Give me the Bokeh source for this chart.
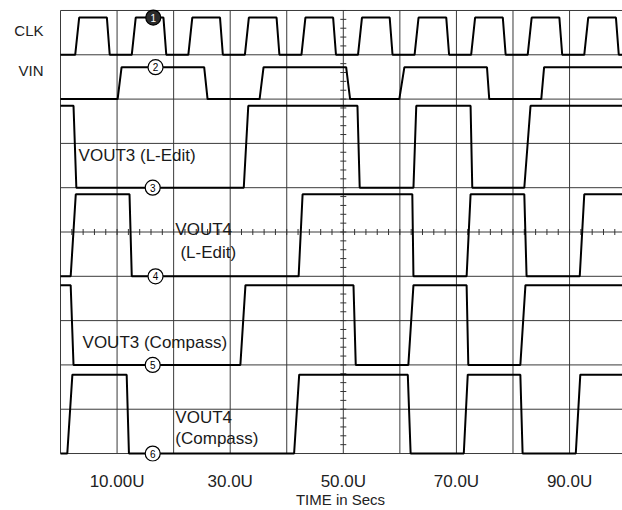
from bokeh.plotting import figure
from bokeh.models import Range1d, FixedTicker, ColumnDataSource
from bokeh.core.properties import value
from bokeh.embed import file_html
from bokeh.resources import INLINE
import math

FONT = "Liberation Sans"

# ---- data (time in microseconds, logic level 0/1) ----
clk_t = [0, 2.6, 3.3, 8.2, 8.7, 12.6, 13.3, 18.2, 18.7, 22.6, 23.3, 28.2, 28.7,
         32.6, 33.3, 38.2, 38.7, 42.6, 43.3, 48.2, 48.7, 52.6, 53.3, 58.2, 58.7,
         62.6, 63.3, 68.2, 68.7, 72.6, 73.3, 78.2, 78.7, 82.6, 83.3, 88.2, 88.7,
         92.6, 93.3, 98.2, 98.7, 99.4]
clk_v = [0, 0, 1, 1, 0, 0, 1, 1, 0, 0, 1, 1, 0,
         0, 1, 1, 0, 0, 1, 1, 0, 0, 1, 1, 0,
         0, 1, 1, 0, 0, 1, 1, 0, 0, 1, 1, 0,
         0, 1, 1, 0, 0]

vin_t = [0, 10.1, 10.8, 25.4, 26.0, 35.2, 35.9, 50.5, 51.2, 59.9, 60.8, 75.4, 75.8, 85.0, 85.5, 99.4]
vin_v = [0, 0, 1, 1, 0, 0, 1, 1, 0, 0, 1, 1, 0, 0, 1, 1]

v3l_t = [0, 2.3, 2.8, 32.4, 33.2, 52.5, 52.9, 62.4, 62.9, 72.5, 72.8, 82.0, 83.1, 99.4]
v3l_v = [1, 1, 0, 0, 1, 1, 0, 0, 1, 1, 0, 0, 1, 1]

v4l_t = [0, 1.8, 2.7, 12.2, 12.6, 42.1, 42.8, 62.2, 62.4, 71.8, 72.5, 82.0, 82.4, 91.8, 92.6, 99.4]
v4l_v = [0, 0, 1, 1, 0, 0, 1, 1, 0, 0, 1, 1, 0, 0, 1, 1]

v3c_t = [0, 1.8, 2.3, 31.8, 32.7, 51.8, 52.2, 61.5, 62.4, 71.8, 72.1, 81.3, 82.2, 99.4]
v3c_v = [1, 1, 0, 0, 1, 1, 0, 0, 1, 1, 0, 0, 1, 1]

v4c_t = [0, 1.2, 2.1, 11.7, 12.1, 41.3, 42.2, 61.4, 61.9, 71.3, 72.0, 81.3, 81.7, 91.1, 91.9, 99.4]
v4c_v = [0, 0, 1, 1, 0, 0, 1, 1, 0, 0, 1, 1, 0, 0, 1, 1]

tick_vals = [10, 30, 50, 70, 90]
tick_labels = ["10.00U", "30.0U", "50.0U", "70.0U", "90.0U"]
x_label = "TIME in Secs"

row_names = ["CLK", "VIN"]
node_labels = ["1", "2", "3", "4", "5", "6"]
node_t = [16.4, 16.8, 16.3, 16.8, 16.3, 16.3]

trace_labels = ["VOUT3 (L-Edit)", "VOUT4", "(L-Edit)", "VOUT3 (Compass)", "VOUT4", "(Compass)"]

# ---- layout (division units on the screen, 10 divisions tall) ----
traces = [
    (clk_t, clk_v, 9.0, 0.84),
    (vin_t, vin_v, 8.0, 0.72),
    (v3l_t, v3l_v, 6.0, 1.85),
    (v4l_t, v4l_v, 4.0, 1.85),
    (v3c_t, v3c_v, 2.0, 1.80),
    (v4c_t, v4c_v, 0.0, 1.78),
]
node_level = [1, 1, 0, 0, 0, 0]
row_name_y = [9.55, 8.65]
label_x = [3.2, 20.3, 21.2, 3.9, 20.3, 20.3]
label_y = [6.73, 5.06, 4.54, 2.51, 0.81, 0.34]

X0, X1 = -0.354, 99.36
Y0, Y1 = -0.18, 10.09

p = figure(width=622, height=510, x_range=Range1d(X0, X1), y_range=Range1d(Y0, Y1),
           output_backend="svg", toolbar_location=None,
           min_border_left=58, min_border_right=0, min_border_top=6, min_border_bottom=49)
p.background_fill_color = "white"
p.border_fill_color = "white"
p.outline_line_color = None
p.grid.grid_line_color = None

# graticule
grid_x = [0, 10, 20, 30, 40, 50, 60, 70, 80, 90]
grid_y = [0, 1, 2, 3, 4, 5, 6, 7, 8, 9, 10]
p.segment(x0=grid_x, y0=[0] * len(grid_x), x1=grid_x, y1=[10] * len(grid_x),
          line_color="#3a3a3a", line_width=1)
p.segment(x0=[0] * len(grid_y), y0=grid_y, x1=[X1] * len(grid_y), y1=grid_y,
          line_color="#3a3a3a", line_width=1)

# x axis
p.xaxis.ticker = FixedTicker(ticks=tick_vals)
p.xaxis.major_label_overrides = dict(zip(tick_vals, tick_labels))
p.xaxis.axis_line_color = None
p.xaxis.major_tick_line_color = None
p.xaxis.minor_tick_line_color = None
p.xaxis.major_tick_out = 0
p.xaxis.major_tick_in = 0
p.xaxis.major_label_standoff = 10
p.xaxis.major_label_text_font = FONT
p.xaxis.major_label_text_font_size = "17px"
p.xaxis.major_label_text_color = "#222222"
p.xaxis.axis_label = x_label
p.xaxis.axis_label_text_font = FONT
p.xaxis.axis_label_text_font_size = "15px"
p.xaxis.axis_label_text_font_style = "normal"
p.xaxis.axis_label_text_color = "#222222"
p.xaxis.axis_label_standoff = -3

# y axis with row names
p.yaxis.ticker = FixedTicker(ticks=row_name_y)
p.yaxis.major_label_overrides = dict(zip(row_name_y, row_names))
p.yaxis.axis_line_color = None
p.yaxis.major_tick_line_color = None
p.yaxis.minor_tick_line_color = None
p.yaxis.major_tick_out = 0
p.yaxis.major_tick_in = 0
p.yaxis.major_label_standoff = 15
p.yaxis.major_label_text_font = FONT
p.yaxis.major_label_text_font_size = "15px"
p.yaxis.major_label_text_color = "#222222"

# center graticule ticks
htick_x = [i * 2 for i in range(50)]
p.scatter(htick_x, [5] * len(htick_x), marker="dash", size=6, angle=math.pi / 2,
          line_color="#333333", line_width=1)
vtick_y = [i * 0.2 for i in range(51)]
p.scatter([50] * len(vtick_y), vtick_y, marker="dash", size=6,
          line_color="#333333", line_width=1)

# traces
for t, v, base, amp in traces:
    p.line(t, [base + amp * s for s in v], line_color="black", line_width=2)

# node markers
node_y = []
for i, lvl in enumerate(node_level):
    t, v, base, amp = traces[i]
    node_y.append(base + amp * lvl)
fills = ["#2a2a2a"] + ["white"] * 5
tcols = ["white"] + ["black"] * 5
src = ColumnDataSource(dict(x=node_t, y=node_y, txt=node_labels, fill=fills, tc=tcols))
p.scatter("x", "y", source=src, marker="circle", size=15, fill_color="fill",
          line_color="black", line_width=1.2)
p.text("x", "y", text="txt", source=src, text_align="center", text_baseline="middle",
       text_font=value(FONT), text_font_size="10px", text_color="tc")

# trace labels
lsrc = ColumnDataSource(dict(x=label_x, y=label_y, txt=trace_labels))
p.text("x", "y", text="txt", source=lsrc, text_align="left", text_baseline="middle",
       text_font=value(FONT), text_font_size="17px", text_color="#1a1a1a")

open("out.html", "w").write(file_html(p, INLINE))
